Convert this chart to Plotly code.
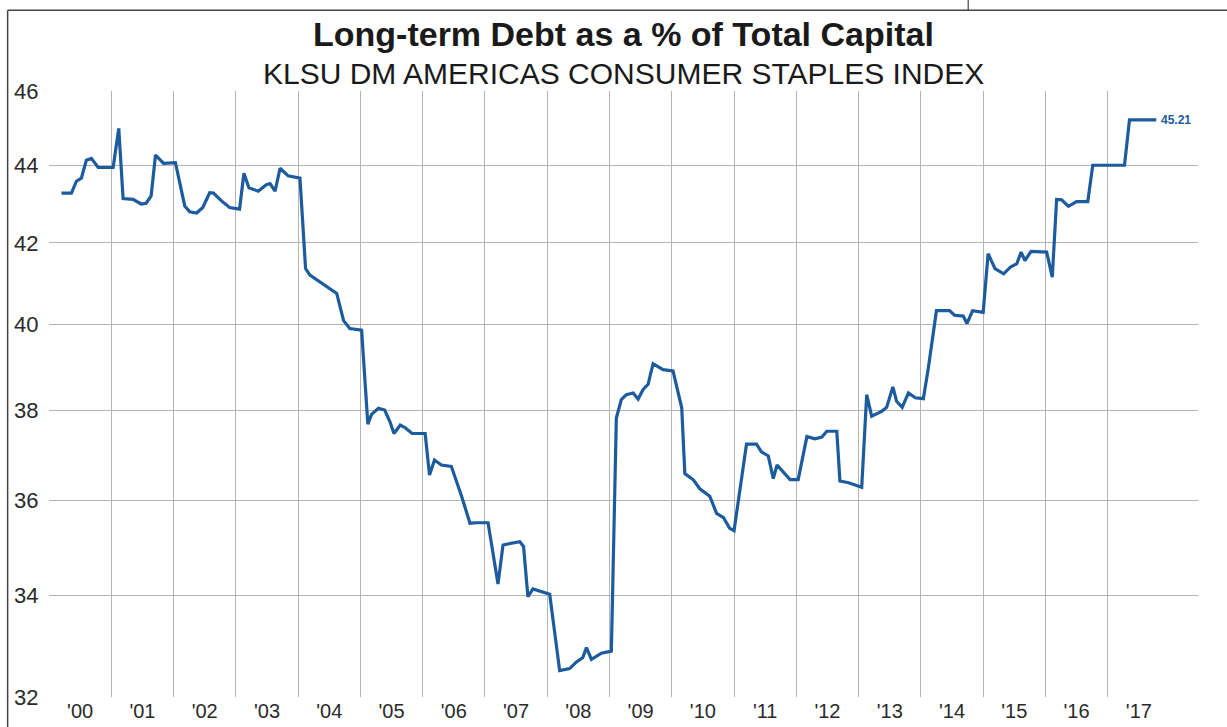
import math
import plotly.graph_objects as go

# ---- data ----
years = [
    2000.20, 2000.36, 2000.44, 2000.52, 2000.60, 2000.68, 2000.79, 2001.03, 2001.12, 2001.19,
    2001.35, 2001.48, 2001.56, 2001.64, 2001.71, 2001.84, 2002.03, 2002.07, 2002.18, 2002.26,
    2002.37, 2002.47, 2002.58, 2002.64, 2002.77, 2002.90, 2003.06, 2003.13, 2003.21, 2003.36,
    2003.49, 2003.55, 2003.63, 2003.71, 2003.84, 2004.03, 2004.12, 2004.19, 2004.40, 2004.62,
    2004.73, 2004.83, 2005.02, 2005.12, 2005.18, 2005.29, 2005.39, 2005.47, 2005.54, 2005.64,
    2005.72, 2005.83, 2006.04, 2006.11, 2006.19, 2006.30, 2006.46, 2006.62, 2006.76, 2006.86,
    2007.05, 2007.21, 2007.29, 2007.56, 2007.62, 2007.69, 2007.77, 2007.91, 2008.04, 2008.20,
    2008.36, 2008.47, 2008.57, 2008.63, 2008.71, 2008.87, 2009.03, 2009.11, 2009.19, 2009.27,
    2009.38, 2009.46, 2009.54, 2009.62, 2009.70, 2009.86, 2010.02, 2010.16, 2010.21, 2010.35,
    2010.45, 2010.61, 2010.72, 2010.83, 2010.93, 2011.00, 2011.20, 2011.36, 2011.44, 2011.55,
    2011.63, 2011.69, 2011.79, 2011.90, 2012.03, 2012.17, 2012.30, 2012.41, 2012.49, 2012.65,
    2012.70, 2012.84, 2013.05, 2013.13, 2013.21, 2013.37, 2013.45, 2013.55, 2013.61, 2013.70,
    2013.80, 2013.91, 2014.04, 2014.12, 2014.25, 2014.46, 2014.54, 2014.68, 2014.74, 2014.83,
    2015.00, 2015.08, 2015.19, 2015.33, 2015.44, 2015.54, 2015.61, 2015.67, 2015.77, 2016.02,
    2016.11, 2016.18, 2016.26, 2016.37, 2016.50, 2016.68, 2016.76, 2017.27, 2017.35, 2017.78,
]
debt_pct = [
    43.27, 43.27, 43.58, 43.66, 44.13, 44.18, 43.94, 43.94, 44.98, 43.13,
    43.11, 42.99, 43.01, 43.20, 44.27, 44.05, 44.07, 43.79, 42.94, 42.79,
    42.76, 42.90, 43.28, 43.27, 43.07, 42.90, 42.86, 43.79, 43.41, 43.32,
    43.49, 43.52, 43.32, 43.92, 43.72, 43.66, 41.36, 41.20, 40.99, 40.75,
    40.09, 39.90, 39.86, 37.68, 37.90, 38.04, 38.00, 37.75, 37.47, 37.66,
    37.60, 37.47, 37.47, 36.55, 36.88, 36.77, 36.74, 36.11, 35.51, 35.52,
    35.52, 34.24, 35.05, 35.12, 35.02, 33.98, 34.14, 34.09, 34.03, 32.51,
    32.55, 32.68, 32.76, 32.96, 32.73, 32.85, 32.89, 37.82, 38.24, 38.35,
    38.39, 38.25, 38.47, 38.59, 39.07, 38.93, 38.90, 38.05, 36.58, 36.44,
    36.25, 36.09, 35.72, 35.63, 35.40, 35.35, 37.23, 37.23, 37.06, 36.97,
    36.47, 36.77, 36.62, 36.45, 36.45, 37.40, 37.35, 37.39, 37.52, 37.52,
    36.42, 36.38, 36.28, 38.35, 37.86, 37.97, 38.06, 38.53, 38.20, 38.06,
    38.39, 38.28, 38.26, 38.97, 40.33, 40.33, 40.22, 40.20, 40.02, 40.33,
    40.29, 41.73, 41.36, 41.23, 41.40, 41.48, 41.77, 41.56, 41.79, 41.77,
    41.15, 43.11, 43.10, 42.93, 43.05, 43.05, 44.00, 44.00, 45.21, 45.21,
]

year_starts = list(range(2000, 2018))
year_labels = ["'00", "'01", "'02", "'03", "'04", "'05", "'06", "'07", "'08",
               "'09", "'10", "'11", "'12", "'13", "'14", "'15", "'16", "'17"]
y_ticks = [32, 34, 36, 38, 40, 42, 44, 46]
y_grid = [34, 36, 38, 40, 42, 44]

title = "Long-term Debt as a % of Total Capital"
subtitle = "KLSU DM AMERICAS CONSUMER STAPLES INDEX"

LINE = "#1c5c9e"
GRID = "#b4b4b4"
FONT = "Liberation Sans"

fig = go.Figure()
fig.add_trace(go.Scatter(
    x=years, y=debt_pct, mode="lines",
    line=dict(color=LINE, width=3.2),
    hoverinfo="x+y", showlegend=False,
))

fig.add_annotation(
    x=years[-1], y=math.log10(debt_pct[-1]), xref="x", yref="y",
    text="<b>%.2f</b>" % debt_pct[-1], showarrow=False,
    xanchor="left", yanchor="middle", xshift=3,
    font=dict(family=FONT, size=12, color=LINE),
)

fig.add_annotation(
    x=0.5, y=1.094, xref="paper", yref="paper", text="<b>" + title + "</b>",
    showarrow=False, xanchor="center", yanchor="middle",
    font=dict(family=FONT, size=34, color="#1a1a1a"),
)
fig.add_annotation(
    x=0.5, y=1.029, xref="paper", yref="paper", text=subtitle,
    showarrow=False, xanchor="center", yanchor="middle",
    font=dict(family=FONT, size=30, color="#1a1a1a"),
)

# frame lines of the clipped page
fig.add_shape(type="line", xref="paper", yref="paper", x0=-0.036, x1=1.03, y0=1.1333, y1=1.1333,
              line=dict(color="#444", width=1.5))
fig.add_shape(type="line", xref="paper", yref="paper", x0=-0.036, x1=-0.036, y0=1.1333, y1=-0.06,
              line=dict(color="#444", width=1.5))
fig.add_shape(type="line", xref="paper", yref="paper", x0=0.8, x1=0.8, y0=1.1333, y1=1.16,
              line=dict(color="#444", width=1.2))

fig.update_layout(
    width=1227, height=727,
    margin=dict(l=49, r=29, t=91, b=30),
    paper_bgcolor="white", plot_bgcolor="white",
    font=dict(family=FONT, color="#2a2a2a"),
    xaxis=dict(
        range=[2000, 2018.45], automargin=False,
        tickvals=[y + 0.5 for y in year_starts], ticktext=year_labels,
        showgrid=False, zeroline=False, showline=False,
        ticks="", tickfont=dict(size=20, color="#2a2a2a"),
        minor=dict(tickvals=year_starts, showgrid=True, gridcolor=GRID, gridwidth=1.3, ticks=""),
    ),
    yaxis=dict(
        type="log", range=[math.log10(32), math.log10(46)], automargin=False,
        tickvals=y_ticks, ticktext=[str(v) for v in y_ticks],
        showgrid=False, zeroline=False, showline=False,
        ticks="outside", ticklen=5, tickcolor="rgba(0,0,0,0)",
        tickfont=dict(size=22, color="#2a2a2a"),
        minor=dict(tickvals=y_grid, showgrid=True, gridcolor=GRID, gridwidth=1.3, ticks=""),
    ),
)

fig.write_html("out.html")
